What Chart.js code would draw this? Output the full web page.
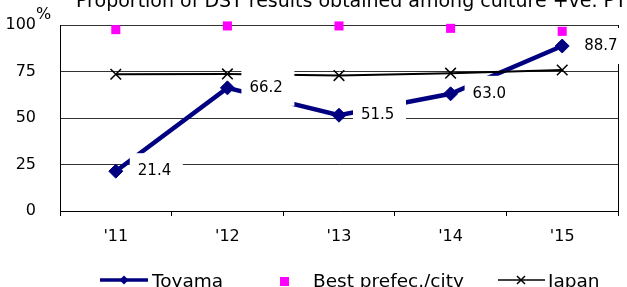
<!DOCTYPE html>
<html>
<head>
<meta charset="utf-8">
<script src="https://cdn.jsdelivr.net/npm/chart.js@4.4.1/dist/chart.umd.min.js"></script>
<style>
  body { margin: 0; background: #fff; }
  #wrap { width: 627px; height: 287px; position: relative; }
</style>
</head>
<body>
<div id="wrap"><canvas id="chart"></canvas></div>
<script>
// données
const years = ["'11", "'12", "'13", "'14", "'15"];
const toyama = [21.4, 66.2, 51.5, 63.0, 88.7];
const bestPrefec = [97.5, 99.5, 99.5, 98.2, 96.6];
const japan = [73.5, 73.7, 72.8, 74.1, 75.8];
const yTicks = [0, 25, 50, 75, 100];
const titleText = "Proportion of DST results obtained among culture +ve. PTB";

const FONT = '"DejaVu Sans", Verdana, sans-serif';
const NAVY = '#000080';
const PINK = '#ff00ff';

// bordure droite, étiquettes, titre et légende
const extras = {
    id: 'extras',
    beforeDatasetsDraw(chart) {
        const { ctx, chartArea: a } = chart;
        ctx.save();
        ctx.strokeStyle = '#000';
        ctx.lineWidth = 1;
        ctx.beginPath();
        ctx.moveTo(Math.round(a.right) + 0.5, a.top);
        ctx.lineTo(Math.round(a.right) + 0.5, a.bottom);
        ctx.stroke();
        ctx.restore();
    },
    afterDatasetsDraw(chart) {
        const ctx = chart.ctx;
        const meta = chart.getDatasetMeta(0);
        ctx.save();
        ctx.font = '15px ' + FONT;
        ctx.textBaseline = 'middle';
        ctx.textAlign = 'left';
        meta.data.forEach((pt, i) => {
            ctx.fillStyle = '#fff';
            ctx.fillRect(pt.x + 14, pt.y - 18, 53, 36);
            ctx.fillStyle = '#000';
            ctx.fillText(toyama[i].toFixed(1), pt.x + 22, pt.y);
        });
        ctx.restore();
    },
    afterDraw(chart) {
        const ctx = chart.ctx;
        ctx.save();
        ctx.fillStyle = '#000';
        ctx.textAlign = 'left';

        // titre (coupé en haut)
        ctx.font = '19px ' + FONT;
        ctx.textBaseline = 'alphabetic';
        ctx.fillText(titleText, 76, 7);

        // % en exposant
        ctx.font = '16px ' + FONT;
        ctx.textBaseline = 'middle';
        ctx.fillText('%', 36, 15);

        // légende
        const ly = 280;
        ctx.font = '18.5px ' + FONT;
        // Toyama
        ctx.strokeStyle = NAVY;
        ctx.lineWidth = 3.5;
        ctx.beginPath(); ctx.moveTo(100, ly); ctx.lineTo(148, ly); ctx.stroke();
        ctx.fillStyle = NAVY;
        ctx.beginPath();
        ctx.moveTo(124 - 4.5, ly); ctx.lineTo(124, ly - 4.5);
        ctx.lineTo(124 + 4.5, ly); ctx.lineTo(124, ly + 4.5);
        ctx.closePath(); ctx.fill();
        ctx.fillStyle = '#000';
        ctx.fillText('Toyama', 152, ly + 2);
        // Best prefec./city
        ctx.fillStyle = PINK;
        ctx.fillRect(280, ly - 3, 9, 9);
        ctx.fillStyle = '#000';
        ctx.fillText('Best prefec./city', 313, ly + 2);
        // Japan
        ctx.strokeStyle = '#000';
        ctx.lineWidth = 1.5;
        ctx.beginPath(); ctx.moveTo(498, ly); ctx.lineTo(545, ly); ctx.stroke();
        ctx.beginPath();
        ctx.moveTo(517, ly - 4); ctx.lineTo(525, ly + 4);
        ctx.moveTo(525, ly - 4); ctx.lineTo(517, ly + 4);
        ctx.stroke();
        ctx.fillText('Japan', 548, ly + 2);
        ctx.restore();
    }
};

const ctx = document.getElementById('chart').getContext('2d');
new Chart(ctx, {
    type: 'line',
    data: {
        labels: years,
        datasets: [{
            label: 'Toyama',
            data: toyama,
            borderColor: NAVY,
            backgroundColor: NAVY,
            borderWidth: 4.5,
            pointStyle: 'rectRot',
            pointRadius: 7,
            pointBorderWidth: 1,
            tension: 0,
            clip: false,
            order: 3
        }, {
            label: 'Best prefec./city',
            data: bestPrefec,
            showLine: false,
            borderColor: PINK,
            backgroundColor: PINK,
            pointStyle: 'rect',
            pointRadius: 6.4,
            pointBorderWidth: 0,
            clip: false,
            order: 1
        }, {
            label: 'Japan',
            data: japan,
            borderColor: '#000',
            backgroundColor: '#000',
            borderWidth: 2,
            pointStyle: 'crossRot',
            pointRadius: 7.5,
            pointBorderWidth: 1.5,
            tension: 0,
            clip: false,
            order: 2
        }]
    },
    options: {
        responsive: true,
        maintainAspectRatio: false,
        animation: false,
        events: [],
        layout: { autoPadding: false, padding: { top: 25, right: 9, left: 0, bottom: 0 } },
        plugins: {
            legend: { display: false },
            title: { display: false },
            tooltip: { enabled: false }
        },
        scales: {
            x: {
                offset: true,
                afterFit: s => { s.height = 76; s.paddingLeft = 0; s.paddingRight = 0; },
                grid: {
                    drawOnChartArea: false,
                    drawTicks: true,
                    tickLength: 5,
                    color: '#000',
                    offset: true
                },
                border: { color: '#000' },
                ticks: {
                    color: '#000',
                    font: { family: FONT, size: 16 },
                    padding: 11,
                    maxRotation: 0
                }
            },
            y: {
                min: 0,
                max: 100,
                afterFit: s => { s.width = 60; s.paddingTop = 0; s.paddingBottom = 0; },
                afterBuildTicks: s => { s.ticks = yTicks.map(v => ({ value: v })); },
                grid: { color: '#333', drawTicks: false },
                border: { color: '#000' },
                ticks: {
                    color: '#000',
                    font: { family: FONT, size: 16 },
                    padding: 24
                }
            }
        }
    },
    plugins: [extras]
});
</script>
</body>
</html>
